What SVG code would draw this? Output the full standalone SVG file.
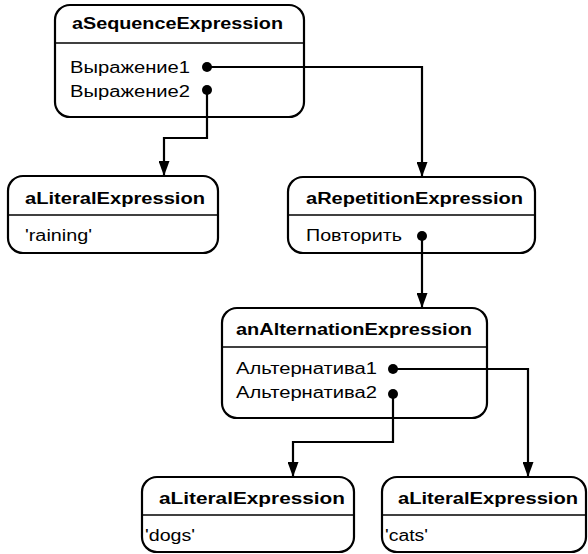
<svg xmlns="http://www.w3.org/2000/svg" width="588" height="554" viewBox="0 0 588 554">
  <defs>
    <marker id="arrow" markerUnits="userSpaceOnUse" markerWidth="15" markerHeight="11" refX="15" refY="5.5" orient="auto">
      <path d="M0,0 L15,5.5 L0,11 z" fill="#000"/>
    </marker>
    <marker id="dot" markerUnits="userSpaceOnUse" markerWidth="11" markerHeight="11" refX="5.5" refY="5.5" orient="auto">
      <circle cx="5.5" cy="5.5" r="5" fill="#000"/>
    </marker>
  </defs>
  <style>
    .box { fill: #fff; stroke: #000; stroke-width: 2.2; }
    .sep { stroke: #000; stroke-width: 1.6; }
    .title { font-family: "Liberation Sans", Arial, sans-serif; font-weight: bold; font-size: 16px; fill: #000; }
    .attr { font-family: "Liberation Sans", Arial, sans-serif; font-size: 16px; fill: #000; }
    .conn { fill: none; stroke: #000; stroke-width: 2.2; marker-start: url(#dot); marker-end: url(#arrow); }
  </style>
  <rect width="588" height="554" fill="#fff"/>

  <g id="aSequenceExpression">
    <rect class="box" x="55" y="5" width="249" height="112" rx="15"/>
    <line class="sep" x1="55" y1="43" x2="304" y2="43"/>
    <text class="title" x="72" y="29" textLength="211" lengthAdjust="spacingAndGlyphs">aSequenceExpression</text>
    <text class="attr" x="70" y="73" textLength="120" lengthAdjust="spacingAndGlyphs">Выражение1</text>
    <text class="attr" x="70" y="97" textLength="120" lengthAdjust="spacingAndGlyphs">Выражение2</text>
  </g>

  <g id="aLiteralExpression-raining">
    <rect class="box" x="8" y="176" width="210" height="77" rx="15"/>
    <line class="sep" x1="8" y1="215" x2="218" y2="215"/>
    <text class="title" x="25" y="204" textLength="180" lengthAdjust="spacingAndGlyphs">aLiteralExpression</text>
    <text class="attr" x="25" y="241" textLength="67" lengthAdjust="spacingAndGlyphs">'raining'</text>
  </g>

  <g id="aRepetitionExpression">
    <rect class="box" x="288" y="177" width="247" height="76" rx="15"/>
    <line class="sep" x1="288" y1="215" x2="535" y2="215"/>
    <text class="title" x="306" y="204" textLength="217" lengthAdjust="spacingAndGlyphs">aRepetitionExpression</text>
    <text class="attr" x="306" y="241" textLength="96" lengthAdjust="spacingAndGlyphs">Повторить</text>
  </g>

  <g id="anAlternationExpression">
    <rect class="box" x="222" y="308" width="265" height="110" rx="15"/>
    <line class="sep" x1="222" y1="347" x2="487" y2="347"/>
    <text class="title" x="236" y="335" textLength="236" lengthAdjust="spacingAndGlyphs">anAlternationExpression</text>
    <text class="attr" x="236" y="374" textLength="141" lengthAdjust="spacingAndGlyphs">Альтернатива1</text>
    <text class="attr" x="236" y="398" textLength="141" lengthAdjust="spacingAndGlyphs">Альтернатива2</text>
  </g>

  <g id="aLiteralExpression-dogs">
    <rect class="box" x="142" y="477" width="212" height="75" rx="15"/>
    <line class="sep" x1="142" y1="515" x2="354" y2="515"/>
    <text class="title" x="159" y="504" textLength="186" lengthAdjust="spacingAndGlyphs">aLiteralExpression</text>
    <text class="attr" x="145" y="541" textLength="50" lengthAdjust="spacingAndGlyphs">'dogs'</text>
  </g>

  <g id="aLiteralExpression-cats">
    <rect class="box" x="382" y="477" width="204" height="75" rx="15"/>
    <line class="sep" x1="382" y1="515" x2="586" y2="515"/>
    <text class="title" x="398" y="504" textLength="180" lengthAdjust="spacingAndGlyphs">aLiteralExpression</text>
    <text class="attr" x="385" y="541" textLength="43" lengthAdjust="spacingAndGlyphs">'cats'</text>
  </g>

  <g id="connectors">
    <path class="conn" d="M207,67 H422 V177"/>
    <path class="conn" d="M207,90 V138 H164 V176"/>
    <path class="conn" d="M422,236 V308"/>
    <path class="conn" d="M393,369 H528 V477"/>
    <path class="conn" d="M393,394 V442 H293 V477"/>
  </g>
</svg>
